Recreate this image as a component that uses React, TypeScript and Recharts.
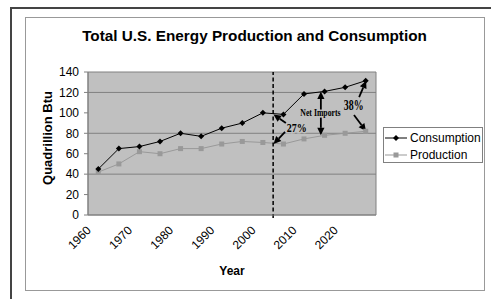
import React from 'react';
import {
  LineChart,
  Line,
  XAxis,
  YAxis,
  ReferenceArea,
  ReferenceLine,
  ReferenceDot,
  Legend,
} from 'recharts';

const years = [1960, 1965, 1970, 1975, 1980, 1985, 1990, 1995, 2000, 2005, 2010, 2015, 2020, 2025];
const consumption = [45, 65, 67, 72, 80, 77, 85, 90, 100, 98.5, 118.5, 121, 125, 131.5];
const production = [42, 50, 62, 60, 65, 65, 69.5, 72, 71, 69.5, 74.5, 78, 80, 82];
const yTicks = [0, 20, 40, 60, 80, 100, 120, 140];
const gridValues = [40, 80, 120];
const labelYears = [1960, 1970, 1980, 1990, 2000, 2010, 2020];
const boundaryTicks = [
  1957.5, 1962.5, 1967.5, 1972.5, 1977.5, 1982.5, 1987.5, 1992.5, 1997.5, 2002.5, 2007.5,
  2012.5, 2017.5, 2022.5, 2027.5,
];
const xDomain = [1957.5, 2027.5];
const yDomain = [0, 140];
const dividerYear = 2002.5;

// annotation arrows (data coordinates)
const arrows = [
  { from: { x: 2005.6, y: 90 }, to: { x: 2002.6, y: 98.5 }, double: false },
  { from: { x: 2005.4, y: 81.3 }, to: { x: 2002.6, y: 69.5 }, double: false },
  { from: { x: 2014.1, y: 78 }, to: { x: 2014.1, y: 121 }, double: true },
  { from: { x: 2023.4, y: 115.5 }, to: { x: 2025.1, y: 131.5 }, double: false },
  { from: { x: 2022.15, y: 97.9 }, to: { x: 2025.07, y: 82.2 }, double: false },
];
const notes = [
  { x: 2008.23, y: 80.8, text: '27%', size: 13, sx: 0.77 },
  { x: 2014.0, y: 97.4, text: 'Net Imports', size: 10.5, sx: 0.74 },
  { x: 2022.08, y: 102.8, text: '38%', size: 14.5, sx: 0.68 },
];

const data = years.map((year, i) => ({
  year,
  consumption: consumption[i],
  production: production[i],
}));

const SANS = "Arial, 'Liberation Sans', sans-serif";
const SERIF = "'Times New Roman', 'Liberation Serif', serif";

const diamondDot = (p: any) => (
  <path
    key={`cd${p.index}`}
    d={`M${p.cx},${p.cy - 3}L${p.cx + 3},${p.cy}L${p.cx},${p.cy + 3}L${p.cx - 3},${p.cy}Z`}
    fill="#000"
  />
);
const squareDot = (p: any) => (
  <rect key={`pd${p.index}`} x={p.cx - 2.5} y={p.cy - 2.5} width={5} height={5} fill="#999999" />
);

function head(tx: number, ty: number, fx: number, fy: number) {
  const dx = tx - fx;
  const dy = ty - fy;
  const len = Math.sqrt(dx * dx + dy * dy) || 1;
  const ux = dx / len;
  const uy = dy / len;
  const hl = 7.5;
  const hw = 3.6;
  const bx = tx - ux * hl;
  const by = ty - uy * hl;
  return {
    pts: `${tx},${ty} ${bx - uy * hw},${by + ux * hw} ${bx + uy * hw},${by - ux * hw}`,
    bx,
    by,
  };
}

const arrowShape = (double: boolean) => (p: any) => {
  const { x1, y1, x2, y2 } = p;
  const h2 = head(x2, y2, x1, y1);
  const h1 = double ? head(x1, y1, x2, y2) : null;
  const sx = h1 ? h1.bx : x1;
  const sy = h1 ? h1.by : y1;
  return (
    <g>
      <line x1={sx} y1={sy} x2={h2.bx} y2={h2.by} stroke="#000" strokeWidth={1.8} />
      <polygon points={h2.pts} fill="#000" />
      {h1 && <polygon points={h1.pts} fill="#000" />}
    </g>
  );
};

const noteShape = (n: any) => (p: any) => (
  <g transform={`translate(${p.cx},${p.cy}) scale(${n.sx},1)`}>
    <text
      x={0}
      y={0}
      textAnchor="middle"
      fontFamily={SERIF}
      fontWeight="bold"
      fontSize={n.size}
      fill="#000"
      stroke="#C0C0C0"
      strokeWidth={3}
      paintOrder="stroke"
    >
      {n.text}
    </text>
  </g>
);

const xLabelTick = (p: any) => (
  <g transform={`translate(${p.x - 6.5},${p.y + 6})`}>
    <text transform="rotate(-45)" textAnchor="end" fontFamily={SANS} fontSize={12} fill="#000">
      {p.payload.value}
    </text>
  </g>
);

const LegendBox = () => (
  <div
    style={{
      boxSizing: 'border-box',
      width: 100,
      height: 36,
      border: '1px solid #808080',
      background: '#fff',
      fontFamily: SANS,
      fontSize: 12,
      color: '#000',
      paddingTop: 1,
    }}
  >
    {[
      { name: 'Consumption', color: '#000', shape: 'diamond' },
      { name: 'Production', color: '#999999', shape: 'square' },
    ].map((it) => (
      <div key={it.name} style={{ display: 'flex', alignItems: 'center', height: 17 }}>
        <svg width={25} height={12} style={{ marginLeft: 1 }}>
          <line x1={0} y1={6} x2={22} y2={6} stroke={it.color} strokeWidth={1} />
          {it.shape === 'diamond' ? (
            <path d="M11,3L14,6L11,9L8,6Z" fill={it.color} />
          ) : (
            <rect x={8.5} y={3.5} width={5} height={5} fill={it.color} />
          )}
        </svg>
        <span style={{ lineHeight: '14px' }}>{it.name}</span>
      </div>
    ))}
  </div>
);

export default function App() {
  return (
    <div
      style={{
        position: 'absolute',
        left: 0,
        top: 0,
        width: 491,
        height: 299,
        overflow: 'hidden',
        background: '#fff',
      }}
    >
      <div
        style={{
          position: 'absolute',
          left: 10,
          top: 7,
          width: 600,
          height: 400,
          border: '2px solid #444',
        }}
      />
      <div
        style={{
          position: 'absolute',
          left: 25,
          top: 16.5,
          width: 460,
          height: 274.5,
          boxSizing: 'border-box',
          border: '1px solid #999',
          background: '#fff',
        }}
      />
      <div style={{ position: 'absolute', left: 0, top: 0 }}>
        <LineChart
          width={491}
          height={299}
          data={data}
          margin={{ top: 72, right: 115, bottom: 44, left: 28 }}
        >
          <XAxis
            xAxisId="a"
            dataKey="year"
            type="number"
            domain={xDomain}
            ticks={boundaryTicks}
            interval={0}
            tick={false}
            tickSize={4}
            height={10}
            stroke="#808080"
            allowDataOverflow
          />
          <XAxis
            xAxisId="b"
            dataKey="year"
            type="number"
            domain={xDomain}
            ticks={labelYears}
            interval={0}
            axisLine={false}
            tickLine={false}
            tickSize={0}
            tickMargin={0}
            tick={xLabelTick}
            height={30}
            allowDataOverflow
          />
          <YAxis
            domain={yDomain}
            ticks={yTicks}
            interval={0}
            width={60}
            tickSize={4}
            tickMargin={5}
            stroke="#808080"
            tick={{ fill: '#000', fontSize: 12, fontFamily: SANS }}
            allowDataOverflow
          />
          <ReferenceArea
            xAxisId="a"
            x1={xDomain[0]}
            x2={xDomain[1]}
            y1={yDomain[0]}
            y2={yDomain[1]}
            fill="#C0C0C0"
            fillOpacity={1}
            stroke="#808080"
            strokeWidth={1}
          />
          {gridValues.map((v) => (
            <ReferenceLine key={`g${v}`} xAxisId="a" y={v} stroke="#808080" strokeWidth={1} />
          ))}
          <Line
            xAxisId="a"
            dataKey="production"
            stroke="#999999"
            strokeWidth={1}
            dot={squareDot}
            isAnimationActive={false}
            name="Production"
          />
          <Line
            xAxisId="a"
            dataKey="consumption"
            stroke="#000"
            strokeWidth={1}
            dot={diamondDot}
            isAnimationActive={false}
            name="Consumption"
          />
          <ReferenceLine
            xAxisId="a"
            segment={[
              { x: dividerYear, y: -3 },
              { x: dividerYear, y: yDomain[1] },
            ]}
            ifOverflow="visible"
            stroke="#000"
            strokeWidth={1.5}
            strokeDasharray="4 2.5"
          />
          {arrows.map((a, i) => (
            <ReferenceLine
              key={`a${i}`}
              xAxisId="a"
              segment={[a.from, a.to]}
              ifOverflow="visible"
              shape={arrowShape(a.double)}
            />
          ))}
          {notes.map((n, i) => (
            <ReferenceDot
              key={`n${i}`}
              xAxisId="a"
              x={n.x}
              y={n.y}
              r={1}
              ifOverflow="visible"
              shape={noteShape(n)}
            />
          ))}
          <Legend
            layout="vertical"
            align="center"
            verticalAlign="middle"
            wrapperStyle={{ left: 383, top: 127, width: 100, height: 36 }}
            content={() => <LegendBox />}
          />
        </LineChart>
      </div>
      <svg
        width={491}
        height={299}
        style={{ position: 'absolute', left: 0, top: 0, pointerEvents: 'none' }}
      >
        <text
          x={254.5}
          y={41}
          textAnchor="middle"
          fontFamily={SANS}
          fontWeight="bold"
          fontSize={15.3}
          fill="#000"
        >
          Total U.S. Energy Production and Consumption
        </text>
        <text
          transform="translate(52,138) rotate(-90)"
          textAnchor="middle"
          fontFamily={SANS}
          fontWeight="bold"
          fontSize={13}
          fill="#000"
        >
          Quadrillion Btu
        </text>
        <text
          x={232}
          y={275}
          textAnchor="middle"
          fontFamily={SANS}
          fontWeight="bold"
          fontSize={12}
          fill="#000"
        >
          Year
        </text>
      </svg>
    </div>
  );
}
